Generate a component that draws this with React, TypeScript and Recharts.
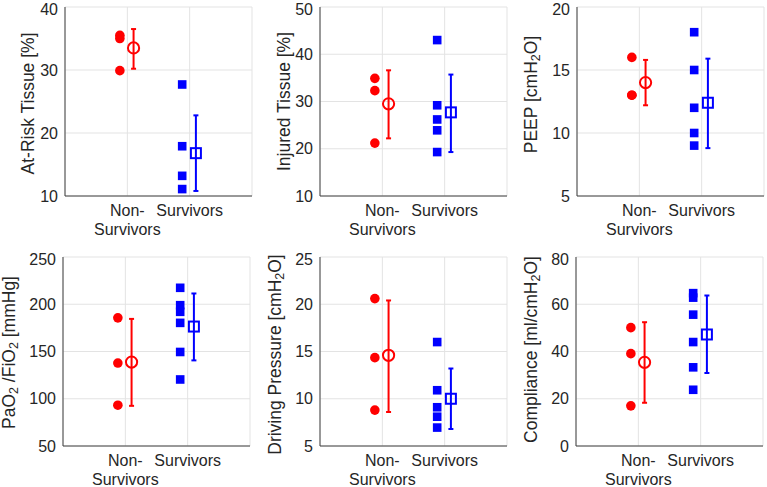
import React from 'react';
import { ScatterChart, Scatter, XAxis, YAxis, CartesianGrid, ErrorBar } from 'recharts';

const RED = '#ff0000';
const BLUE = '#0000ff';
const TEXT = '#262626';
const AXIS = '#404040';
const GRID = '#e3e3e3';
const FONT = '"Liberation Sans", Arial, Helvetica, sans-serif';

// group tick labels (line-broken like the original)
const groupTicks = [['Non-', 'Survivors'], ['Survivors']];
const pointX = [0.88, 1.88];
const meanX = [1.1, 2.1];

// At-Risk Tissue [%]
const atRiskNon = [35.5, 35.0, 29.9];
const atRiskSurv = [27.7, 17.9, 13.2, 11.1];
const atRiskMean = [33.5, 16.8];
const atRiskLow = [30.2, 10.8];
const atRiskHigh = [36.5, 22.8];
const atRiskTicks = [10, 20, 30, 40];

// Injured Tissue [%]
const injuredNon = [34.9, 32.3, 21.2];
const injuredSurv = [43.0, 29.2, 26.2, 23.9, 19.3];
const injuredMean = [29.5, 27.7];
const injuredLow = [22.2, 19.3];
const injuredHigh = [36.6, 35.7];
const injuredTicks = [10, 20, 30, 40, 50];

// PEEP [cmH2O]
const peepNon = [16, 13, 13];
const peepSurv = [18, 15, 12, 10, 9];
const peepMean = [14.0, 12.4];
const peepLow = [12.2, 8.8];
const peepHigh = [15.8, 15.9];
const peepTicks = [5, 10, 15, 20];

// PaO2/FiO2 [mmHg]
const pfNon = [185.6, 137.8, 93.2];
const pfSurv = [217.4, 199, 192, 180.3, 149.5, 120.4];
const pfMean = [138.8, 176.4];
const pfLow = [92.5, 140.6];
const pfHigh = [184.5, 211.4];
const pfTicks = [50, 100, 150, 200, 250];

// Driving Pressure [cmH2O]
const dpNon = [20.6, 14.35, 8.8];
const dpSurv = [16.0, 10.9, 9.1, 8.1, 6.95];
const dpMean = [14.6, 10.0];
const dpLow = [8.6, 6.8];
const dpHigh = [20.4, 13.2];
const dpTicks = [5, 10, 15, 20, 25];

// Compliance [ml/cmH2O]
const compNon = [50.1, 39.1, 17.0];
const compSurv = [64.7, 62.8, 55.6, 44.0, 33.3, 23.8];
const compMean = [35.4, 47.2];
const compLow = [18.3, 30.9];
const compHigh = [52.4, 63.7];
const compTicks = [0, 20, 40, 60, 80];

type Part = [string, boolean?];

const MARGIN_TOP = 7;
const PLOT_H = 189;
const PLOT_W = 187;

const XTick = (props: any) => {
  const { x, payload } = props;
  const lines = groupTicks[payload.value - 1] || [];
  const base = MARGIN_TOP + PLOT_H;
  return (
    <text textAnchor="middle" fill={TEXT} fontSize={16} fontFamily={FONT}>
      {lines.map((l, i) => (
        <tspan key={i} x={x} y={base + 20 + i * 19}>
          {l}
        </tspan>
      ))}
    </text>
  );
};

const YLabel = (props: any) => {
  const { viewBox, parts, labelDx, labelDy } = props;
  const cx = viewBox.x + viewBox.width - labelDx;
  const cy = viewBox.y + viewBox.height / 2 + labelDy;
  let shifted = false;
  return (
    <text
      x={cx}
      y={cy}
      transform={`rotate(-90, ${cx}, ${cy})`}
      textAnchor="middle"
      dominantBaseline="central"
      fill={TEXT}
      fontSize={17.5}
      fontFamily={FONT}
    >
      {(parts as Part[]).map(([t, sub], i) => {
        let dy = 0;
        if (sub && !shifted) {
          dy = 5;
          shifted = true;
        } else if (!sub && shifted) {
          dy = -5;
          shifted = false;
        }
        return (
          <tspan key={i} dy={dy} fontSize={sub ? 12.5 : 17.5}>
            {t}
          </tspan>
        );
      })}
    </text>
  );
};

const Dot = (p: any) => <circle cx={p.cx} cy={p.cy} r={4.8} fill={RED} />;
const Sq = (p: any) => <rect x={p.cx - 4.3} y={p.cy - 4.3} width={8.6} height={8.6} fill={BLUE} />;
const MeanCircle = (p: any) => (
  <circle cx={p.cx} cy={p.cy} r={5.6} fill="none" stroke={RED} strokeWidth={2} />
);
const MeanSq = (p: any) => (
  <rect x={p.cx - 5} y={p.cy - 5} width={10} height={10} fill="none" stroke={BLUE} strokeWidth={2} />
);

interface PanelProps {
  left: number;
  top: number;
  yWidth: number;
  labelDx: number;
  labelDy: number;
  ticks: number[];
  label: Part[];
  non: number[];
  surv: number[];
  mean: number[];
  low: number[];
  high: number[];
}

const Panel: React.FC<PanelProps> = ({
  left, top, yWidth, labelDx, labelDy, ticks, label, non, surv, mean, low, high,
}) => {
  const nonPts = non.map((v) => ({ x: pointX[0], y: v }));
  const survPts = surv.map((v) => ({ x: pointX[1], y: v }));
  const stat = (i: number) => [{ x: meanX[i], y: mean[i], err: [mean[i] - low[i], high[i] - mean[i]] }];
  return (
    <div style={{ position: 'absolute', left, top }}>
      <ScatterChart
        width={yWidth + PLOT_W + 2}
        height={MARGIN_TOP + PLOT_H + 44}
        margin={{ top: MARGIN_TOP, right: 2, left: 0, bottom: 0 }}
      >
        <CartesianGrid stroke={GRID} />
        <XAxis
          type="number"
          dataKey="x"
          domain={[0, 3]}
          ticks={[1, 2]}
          allowDataOverflow
          height={44}
          tickLine={false}
          axisLine={{ stroke: AXIS }}
          tick={<XTick />}
        />
        <YAxis
          type="number"
          dataKey="y"
          domain={[ticks[0], ticks[ticks.length - 1]]}
          ticks={ticks}
          allowDataOverflow
          width={yWidth}
          tickLine={false}
          tickMargin={1}
          axisLine={{ stroke: AXIS }}
          tick={{ fill: TEXT, fontSize: 16, fontFamily: FONT }}
          label={<YLabel parts={label} labelDx={labelDx} labelDy={labelDy} />}
        />
        <Scatter data={nonPts} shape={<Dot />} isAnimationActive={false} />
        <Scatter data={survPts} shape={<Sq />} isAnimationActive={false} />
        <Scatter data={stat(0)} shape={<MeanCircle />} isAnimationActive={false}>
          <ErrorBar dataKey="err" direction="y" width={2.5} strokeWidth={2} stroke={RED} />
        </Scatter>
        <Scatter data={stat(1)} shape={<MeanSq />} isAnimationActive={false}>
          <ErrorBar dataKey="err" direction="y" width={2.5} strokeWidth={2} stroke={BLUE} />
        </Scatter>
      </ScatterChart>
    </div>
  );
};

export default function App() {
  return (
    <div style={{ position: 'absolute', left: 0, top: 0, width: 767, height: 487, background: '#fff', overflow: 'hidden' }}>
      <Panel left={0} top={0} yWidth={65} labelDx={37} labelDy={2} ticks={atRiskTicks}
        label={[['At-Risk Tissue [%]']]}
        non={atRiskNon} surv={atRiskSurv} mean={atRiskMean} low={atRiskLow} high={atRiskHigh} />
      <Panel left={255} top={0} yWidth={65} labelDx={36} labelDy={0} ticks={injuredTicks}
        label={[['Injured Tissue [%]']]}
        non={injuredNon} surv={injuredSurv} mean={injuredMean} low={injuredLow} high={injuredHigh} />
      <Panel left={511} top={0} yWidth={66} labelDx={46} labelDy={-7} ticks={peepTicks}
        label={[['PEEP [cmH'], ['2', true], ['O]']]}
        non={peepNon} surv={peepSurv} mean={peepMean} low={peepLow} high={peepHigh} />
      <Panel left={0} top={250} yWidth={63} labelDx={54} labelDy={1} ticks={pfTicks}
        label={[['PaO'], ['2', true], [' /FiO'], ['2', true], [' [mmHg]']]}
        non={pfNon} surv={pfSurv} mean={pfMean} low={pfLow} high={pfHigh} />
      <Panel left={255} top={250} yWidth={65} labelDx={45} labelDy={3} ticks={dpTicks}
        label={[['Driving Pressure [cmH'], ['2', true], ['O]']]}
        non={dpNon} surv={dpSurv} mean={dpMean} low={dpLow} high={dpHigh} />
      <Panel left={511} top={250} yWidth={65} labelDx={45} labelDy={-2} ticks={compTicks}
        label={[['Compliance [ml/cmH'], ['2', true], ['O]']]}
        non={compNon} surv={compSurv} mean={compMean} low={compLow} high={compHigh} />
    </div>
  );
}
